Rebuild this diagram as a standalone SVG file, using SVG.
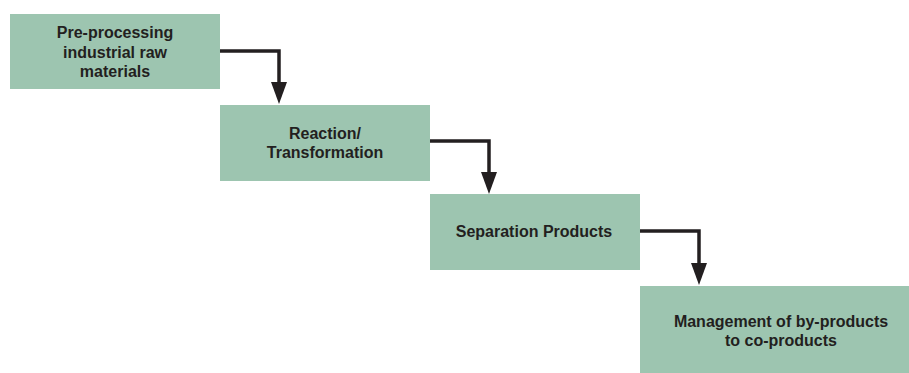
<svg xmlns="http://www.w3.org/2000/svg" width="909" height="373" viewBox="0 0 909 373">
  <defs>
    <style>
      .box { fill: #9dc5b0; }
      .label { font-family: "Liberation Sans", Arial, sans-serif; font-weight: 700; font-size: 16px; fill: #231f20; text-anchor: middle; }
      .conn { fill: none; stroke: #231f20; stroke-width: 3.5; }
      .head { fill: #231f20; }
    </style>
  </defs>
  <rect width="909" height="373" fill="#ffffff"/>

  <!-- elbow connectors: right from each box, then down onto the next one -->
  <g id="connectors">
    <path class="conn" d="M220,51 H279 V82"/>
    <path class="head" d="M271,82 H287 L279,104 Z"/>
    <path class="conn" d="M430,141 H489 V172"/>
    <path class="head" d="M481,172 H497 L489,194 Z"/>
    <path class="conn" d="M640,231 H699 V263"/>
    <path class="head" d="M691,263 H707 L699,285 Z"/>
  </g>

  <g id="node-preprocessing">
    <rect class="box" x="10" y="14" width="210" height="75"/>
    <text class="label" x="115" y="38">Pre-processing</text>
    <text class="label" x="115" y="57.5">industrial raw</text>
    <text class="label" x="115" y="77">materials</text>
  </g>

  <g id="node-reaction">
    <rect class="box" x="220" y="105" width="210" height="76"/>
    <text class="label" x="325" y="139">Reaction/</text>
    <text class="label" x="325" y="158">Transformation</text>
  </g>

  <g id="node-separation">
    <rect class="box" x="430" y="194" width="210" height="76"/>
    <text class="label" x="534" y="237">Separation Products</text>
  </g>

  <g id="node-management">
    <rect class="box" x="640" y="286" width="269" height="87"/>
    <text class="label" x="781" y="327">Management of by-products</text>
    <text class="label" x="781" y="345.5">to co-products</text>
  </g>
</svg>
